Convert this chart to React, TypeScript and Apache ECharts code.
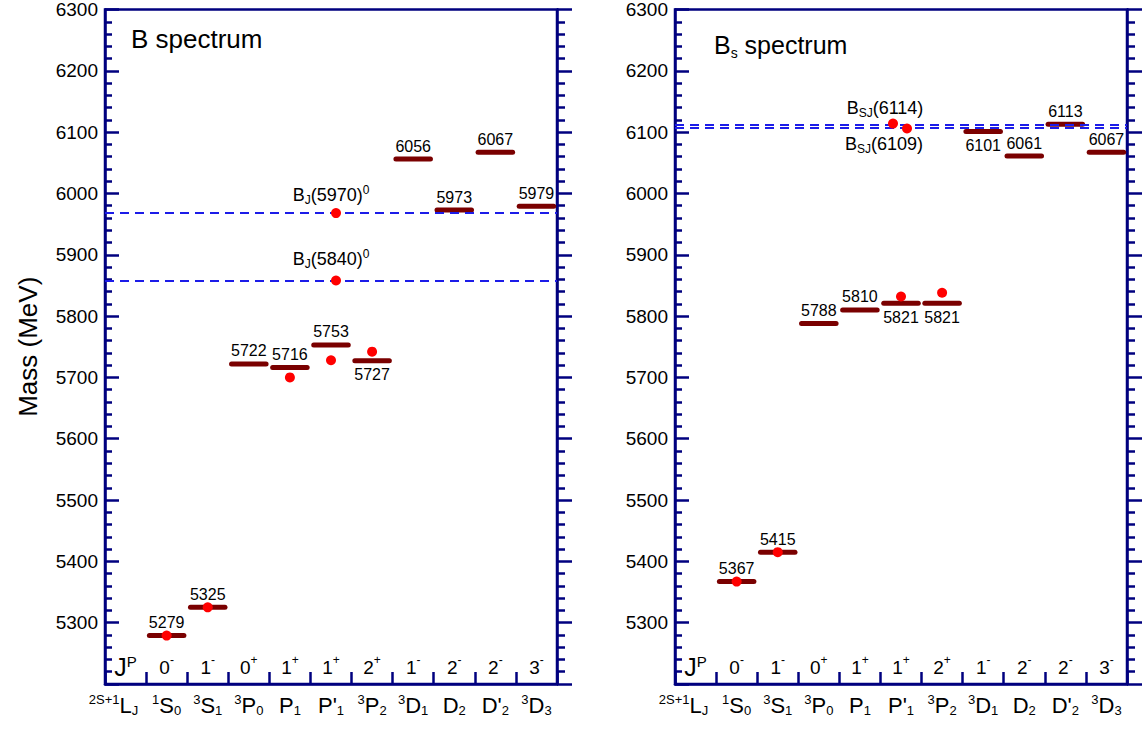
import React, { useEffect, useRef } from "react";
import * as echarts from "echarts";

// ---------------- data ----------------
const stateSup = ["2S+1", "1", "3", "3", "", "", "3", "3", "", "", "3"];
const stateLetter = ["L", "S", "S", "P", "P", "P'", "P", "D", "D", "D'", "D"];
const stateSub = ["J", "0", "1", "0", "1", "1", "2", "1", "2", "2", "3"];
const jpSpin = ["J", "0", "1", "0", "1", "1", "2", "1", "2", "2", "3"];
const jpParity = ["P", "-", "-", "+", "+", "+", "+", "-", "-", "-", "-"];
const categories = stateLetter.map((l, i) => stateSup[i] + l + stateSub[i]);

const bMasses = [null, 5279, 5325, 5722, 5716, 5753, 5727, 6056, 5973, 6067, 5979];
const bLabelsBelow = ["3P2"];
const bDots = [
  [1, 5279],
  [2, 5325],
  [4, 5700],
  [5, 5728],
  [6, 5742],
];
const bExpNames = ["5970", "5840"];
const bExpLines = [5969, 5858];
const bExpDots = [
  [5, 5968],
  [5, 5858],
];

const bsMasses = [null, 5367, 5415, 5788, 5810, 5821, 5821, 6101, 6061, 6113, 6067];
const bsLabelsBelow = ["P'1", "3P2", "3D1"];
const bsDots = [
  [1, 5367],
  [2, 5415],
  [5, 5832],
  [6, 5838],
];
const bsExpNames = ["6114", "6109"];
const bsExpLines = [6112, 6107];
const bsExpDots = [
  [5, 6114],
  [5, 6106],
];

const yMin = 5200;
const yMax = 6300;
const yStep = 100;

// ---------------- styles ----------------
const FONT = 'Arial, "Liberation Sans", sans-serif';
const AXIS = "#00007f";
const BAR = "#7a0000";
const DOT = "#ff0000";
const DASH = "#1c1ce8";

const txt = { fontFamily: FONT, color: "#000", fontWeight: "normal" };

const stateRich = {
  big: { ...txt, fontSize: 22, lineHeight: 24 },
  sup: { ...txt, fontSize: 13, verticalAlign: "top", lineHeight: 13 },
  sub: { ...txt, fontSize: 13, verticalAlign: "bottom", lineHeight: 13 },
  subL: { ...txt, fontSize: 13, verticalAlign: "bottom", lineHeight: 13, padding: [0, 24, 0, 0] },
};

const jpRich = {
  J: { ...txt, fontSize: 25, lineHeight: 26 },
  P: { ...txt, fontSize: 15, verticalAlign: "top", lineHeight: 13 },
  n: { ...txt, fontSize: 19, lineHeight: 26 },
  s: { ...txt, fontSize: 12, verticalAlign: "top", lineHeight: 14 },
};

const expRich = {
  m: { ...txt, fontSize: 18, lineHeight: 22 },
  sub: { ...txt, fontSize: 12, verticalAlign: "bottom", lineHeight: 12 },
  sup: { ...txt, fontSize: 12, verticalAlign: "top", lineHeight: 12 },
};

function stateLabel(_v: any, i: number) {
  const sup = stateSup[i] ? `{sup|${stateSup[i]}}` : "";
  const subStyle = i === 0 ? "subL" : "sub";
  return `${sup}{big|${stateLetter[i]}}{${subStyle}|${stateSub[i]}}`;
}

function jpLabel(_v: any, i: number) {
  if (i === 0) return `{J|${jpSpin[i]}}{P|${jpParity[i]}}`;
  return `{n|${jpSpin[i]}}{s|${jpParity[i]}}`;
}

function xAxesFor(gridIndex: number) {
  return [
    {
      type: "category",
      gridIndex,
      data: categories,
      position: "bottom",
      boundaryGap: true,
      axisLine: { show: true, lineStyle: { color: AXIS, width: 2.5 } },
      axisTick: { show: true, inside: true, length: 12, interval: 0, lineStyle: { color: AXIS, width: 2.5 } },
      axisLabel: { interval: 0, margin: 9, formatter: stateLabel, rich: stateRich },
      splitLine: { show: false },
    },
    {
      type: "category",
      gridIndex,
      data: categories,
      position: "bottom",
      boundaryGap: true,
      axisLine: { show: false },
      axisTick: { show: false },
      axisLabel: { inside: true, interval: 0, margin: 4, formatter: jpLabel, rich: jpRich },
      splitLine: { show: false },
    },
  ];
}

function yAxesFor(gridIndex: number, withName: boolean) {
  return [
    {
      type: "value",
      gridIndex,
      position: "left",
      min: yMin,
      max: yMax,
      interval: yStep,
      name: withName ? "Mass (MeV)" : "",
      nameLocation: "middle",
      nameRotate: 90,
      nameGap: 64,
      nameTextStyle: { fontSize: 26, fontFamily: FONT, color: "#000" },
      axisLine: { show: true, lineStyle: { color: AXIS, width: 2.5 } },
      axisTick: { show: true, inside: true, length: 14, lineStyle: { color: AXIS, width: 2.5 } },
      minorTick: { show: true, splitNumber: 5, length: 7, lineStyle: { color: AXIS, width: 2.5 } },
      axisLabel: {
        fontSize: 19,
        fontFamily: FONT,
        color: "#000",
        margin: 7,
        formatter: (v: number) => (v === yMin ? "" : String(v)),
      },
      splitLine: { show: false },
      minorSplitLine: { show: false },
    },
    {
      type: "value",
      gridIndex,
      position: "right",
      min: yMin,
      max: yMax,
      interval: yStep,
      axisLine: { show: true, lineStyle: { color: AXIS, width: 2.5 } },
      axisTick: { show: true, inside: false, length: 15, lineStyle: { color: AXIS, width: 2.5 } },
      minorTick: { show: true, splitNumber: 5, length: 8, lineStyle: { color: AXIS, width: 2.5 } },
      axisLabel: { show: false },
      splitLine: { show: false },
      minorSplitLine: { show: false },
    },
  ];
}

function levelSeries(masses: (number | null)[], below: string[], xi: number, yi: number) {
  const data: number[][] = [];
  masses.forEach((m, i) => {
    if (m != null) data.push([i, m, below.includes(categories[i]) ? 1 : 0]);
  });
  return {
    type: "custom",
    xAxisIndex: xi,
    yAxisIndex: yi,
    z: 2,
    silent: true,
    encode: { x: 0, y: 1 },
    data,
    renderItem: (_params: any, api: any) => {
      const cat = api.value(0);
      const m = api.value(1);
      const isBelow = api.value(2) === 1;
      const c = api.coord([cat, m]);
      const w = api.size([1, 0])[0];
      const half = w * 0.42;
      return {
        type: "group",
        children: [
          {
            type: "line",
            shape: { x1: c[0] - half, y1: c[1], x2: c[0] + half, y2: c[1] },
            style: { stroke: BAR, lineWidth: 5, lineCap: "round" },
          },
          {
            type: "text",
            x: c[0],
            y: isBelow ? c[1] + 14 : c[1] - 13,
            style: {
              text: String(m),
              fill: "#000",
              fontSize: 16,
              fontFamily: FONT,
              align: "center",
              verticalAlign: "middle",
            },
          },
        ],
      };
    },
  };
}

function dotSeries(dots: number[][], xi: number, yi: number) {
  return {
    type: "scatter",
    xAxisIndex: xi,
    yAxisIndex: yi,
    z: 5,
    silent: true,
    symbol: "circle",
    symbolSize: 10,
    itemStyle: { color: DOT, opacity: 1 },
    data: dots,
  };
}

function expSeries(
  dots: number[][],
  names: string[],
  lines: number[],
  xi: number,
  yi: number,
  fmt: (n: string) => string,
  shifts: number[],
  labelPos: string[],
  labelShift: number[],
  labelDist: number[]
) {
  return {
    type: "scatter",
    xAxisIndex: xi,
    yAxisIndex: yi,
    z: 6,
    silent: true,
    symbol: "circle",
    symbolSize: 10,
    itemStyle: { color: DOT, opacity: 1 },
    data: dots.map((d, k) => ({
      value: d,
      symbolOffset: [shifts[k], 0],
      label: {
        show: true,
        position: labelPos[k],
        distance: labelDist[k],
        offset: [labelShift[k], 0],
        color: "#000",
        opacity: 1,
        formatter: fmt(names[k]),
        rich: expRich,
      },
    })),
    markLine: {
      silent: true,
      symbol: "none",
      animation: false,
      label: { show: false },
      lineStyle: { color: DASH, width: 2, type: [9, 6], opacity: 1 },
      data: lines.map((v) => ({ yAxis: v })),
    },
  };
}

export default function App() {
  const ref = useRef<HTMLDivElement>(null);

  useEffect(() => {
    if (!ref.current) return;
    const chart = echarts.init(ref.current, null, { renderer: "svg" });
    const option = {
      animation: false,
      backgroundColor: "#fff",
      textStyle: { fontFamily: FONT },
      title: [
        {
          text: "B spectrum",
          left: 126,
          top: 21,
          textStyle: { fontSize: 26, fontWeight: "normal", fontFamily: FONT, color: "#000" },
        },
        {
          text: "{a|B}{s|s}{a| spectrum}",
          left: 709,
          top: 25,
          textStyle: {
            fontWeight: "normal",
            rich: {
              a: { ...txt, fontSize: 25, lineHeight: 30 },
              s: { ...txt, fontSize: 14, verticalAlign: "bottom", lineHeight: 12 },
            },
          },
        },
      ],
      grid: [
        { left: 105, top: 8, width: 452, height: 676, show: true, borderColor: AXIS, borderWidth: 2.5, backgroundColor: "transparent" },
        { left: 675, top: 8, width: 452, height: 676, show: true, borderColor: AXIS, borderWidth: 2.5, backgroundColor: "transparent" },
      ],
      xAxis: [...xAxesFor(0), ...xAxesFor(1)],
      yAxis: [...yAxesFor(0, true), ...yAxesFor(1, false)],
      series: [
        levelSeries(bMasses, bLabelsBelow, 0, 0),
        dotSeries(bDots, 0, 0),
        expSeries(
          bExpDots,
          bExpNames,
          bExpLines,
          0,
          0,
          (n) => `{m|B}{sub|J}{m|(${n})}{sup|0}`,
          [5, 5],
          ["top", "top"],
          [-5, -5],
          [2, 6]
        ),
        levelSeries(bsMasses, bsLabelsBelow, 2, 2),
        dotSeries(bsDots, 2, 2),
        expSeries(
          bsExpDots,
          bsExpNames,
          bsExpLines,
          2,
          2,
          (n) => `{m|B}{sub|SJ}{m|(${n})}`,
          [-8, 6],
          ["top", "bottom"],
          [-8, -23],
          [0, 0]
        ),
      ],
    };
    chart.setOption(option as any);
    return () => chart.dispose();
  }, []);

  return (
    <div
      ref={ref}
      style={{ position: "absolute", left: 0, top: 0, width: 1148, height: 732, background: "#fff" }}
    />
  );
}
